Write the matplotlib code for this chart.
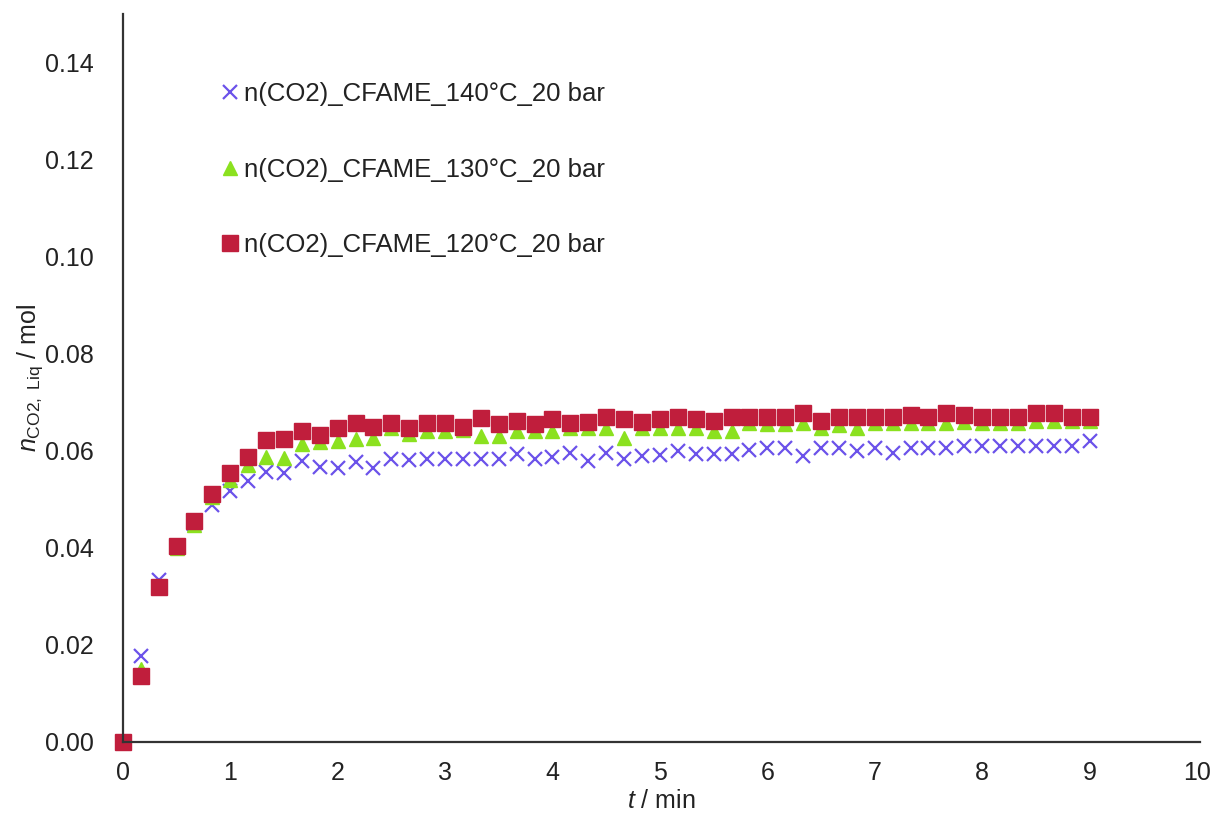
import numpy as np
import matplotlib
matplotlib.use('Agg')
from matplotlib import pyplot as plt

plt.rcParams['font.family'] = ['Liberation Sans', 'DejaVu Sans']
plt.rcParams['mathtext.fontset'] = 'custom'
plt.rcParams['mathtext.rm'] = 'Liberation Sans'
plt.rcParams['mathtext.it'] = 'Liberation Sans:italic'

# time in min, one sample every 10 s
t_min = np.arange(55) / 6.0

n_140 = [0.0, 0.0177, 0.0333, 0.0403, 0.0448, 0.0487, 0.0516, 0.0537, 0.0555, 0.0553,
         0.0578, 0.0567, 0.0565, 0.0576, 0.0565, 0.0582, 0.0580, 0.0582, 0.0582, 0.0582,
         0.0582, 0.0582, 0.0594, 0.0582, 0.0586, 0.0596, 0.0578, 0.0596, 0.0582, 0.0588,
         0.0592, 0.0600, 0.0594, 0.0594, 0.0594, 0.0602, 0.0606, 0.0606, 0.0588, 0.0606,
         0.0606, 0.0600, 0.0606, 0.0596, 0.0606, 0.0606, 0.0606, 0.0610, 0.0610, 0.0610,
         0.0610, 0.0610, 0.0610, 0.0610, 0.0619]

n_130 = [0.0, 0.0150, 0.0320, 0.0400, 0.0446, 0.0504, 0.0539, 0.0570, 0.0586, 0.0584,
         0.0613, 0.0617, 0.0619, 0.0623, 0.0627, 0.0646, 0.0635, 0.0641, 0.0641, 0.0643,
         0.0631, 0.0631, 0.0641, 0.0641, 0.0641, 0.0646, 0.0646, 0.0646, 0.0627, 0.0646,
         0.0646, 0.0646, 0.0646, 0.0641, 0.0641, 0.0656, 0.0654, 0.0654, 0.0658, 0.0646,
         0.0652, 0.0646, 0.0656, 0.0656, 0.0656, 0.0656, 0.0656, 0.0660, 0.0658, 0.0658,
         0.0658, 0.0662, 0.0662, 0.0662, 0.0662]

n_120 = [0.0, 0.0136, 0.0319, 0.0403, 0.0456, 0.0510, 0.0553, 0.0586, 0.0621, 0.0625,
         0.0640, 0.0633, 0.0646, 0.0658, 0.0648, 0.0658, 0.0646, 0.0658, 0.0658, 0.0648,
         0.0668, 0.0654, 0.0662, 0.0654, 0.0666, 0.0658, 0.0660, 0.0670, 0.0666, 0.0660,
         0.0666, 0.0670, 0.0666, 0.0662, 0.0670, 0.0670, 0.0670, 0.0670, 0.0678, 0.0662,
         0.0670, 0.0670, 0.0670, 0.0670, 0.0674, 0.0670, 0.0678, 0.0674, 0.0670, 0.0670,
         0.0670, 0.0678, 0.0678, 0.0670, 0.0670]

labels = ['n(CO2)_CFAME_140°C_20 bar', 'n(CO2)_CFAME_130°C_20 bar', 'n(CO2)_CFAME_120°C_20 bar']

fig = plt.figure(figsize=(12.16, 8.17), dpi=100)
ax = fig.add_axes([0.101, 0.092, 0.886, 0.891])

ax.plot(t_min, n_140, ls='none', marker='x', ms=10, mew=1.6, color='#6B52EA',
        label=labels[0], clip_on=False)
ax.plot(t_min, n_130, ls='none', marker='^', ms=10.5, color='#8BE11F',
        label=labels[1], clip_on=False)
ax.plot(t_min, n_120, ls='none', marker='s', ms=11, color='#C01E3C',
        label=labels[2], clip_on=False)

ax.set_xlim(0, 10.03)
ax.set_ylim(0, 0.15)
ax.set_xticks(range(0, 11))
ax.set_yticks(np.arange(0, 0.141, 0.02))
ax.yaxis.set_major_formatter(matplotlib.ticker.FormatStrFormatter('%.2f'))
ax.tick_params(length=0, labelsize=18, colors='#222222')
ax.tick_params(axis='y', pad=21)
ax.tick_params(axis='x', pad=14)

for s in ['top', 'right']:
    ax.spines[s].set_visible(False)
for s in ['left', 'bottom']:
    ax.spines[s].set_linewidth(1.6)
    ax.spines[s].set_color('#333333')

ax.set_xlabel(r'$t$ / min', fontsize=18, color='#222222', labelpad=3)
ax.set_ylabel(r'$n_{\mathrm{CO2,\ Liq}}$ / mol', fontsize=18, color='#222222', labelpad=0)

leg = ax.legend(loc='upper left', bbox_to_anchor=(0.083, 0.92), frameon=False, fontsize=18.5,
                handlelength=0.6, handletextpad=0.25, labelspacing=2.0, borderaxespad=0)
for txt in leg.get_texts():
    txt.set_color('#222222')

fig.savefig('out.png', dpi=100)
